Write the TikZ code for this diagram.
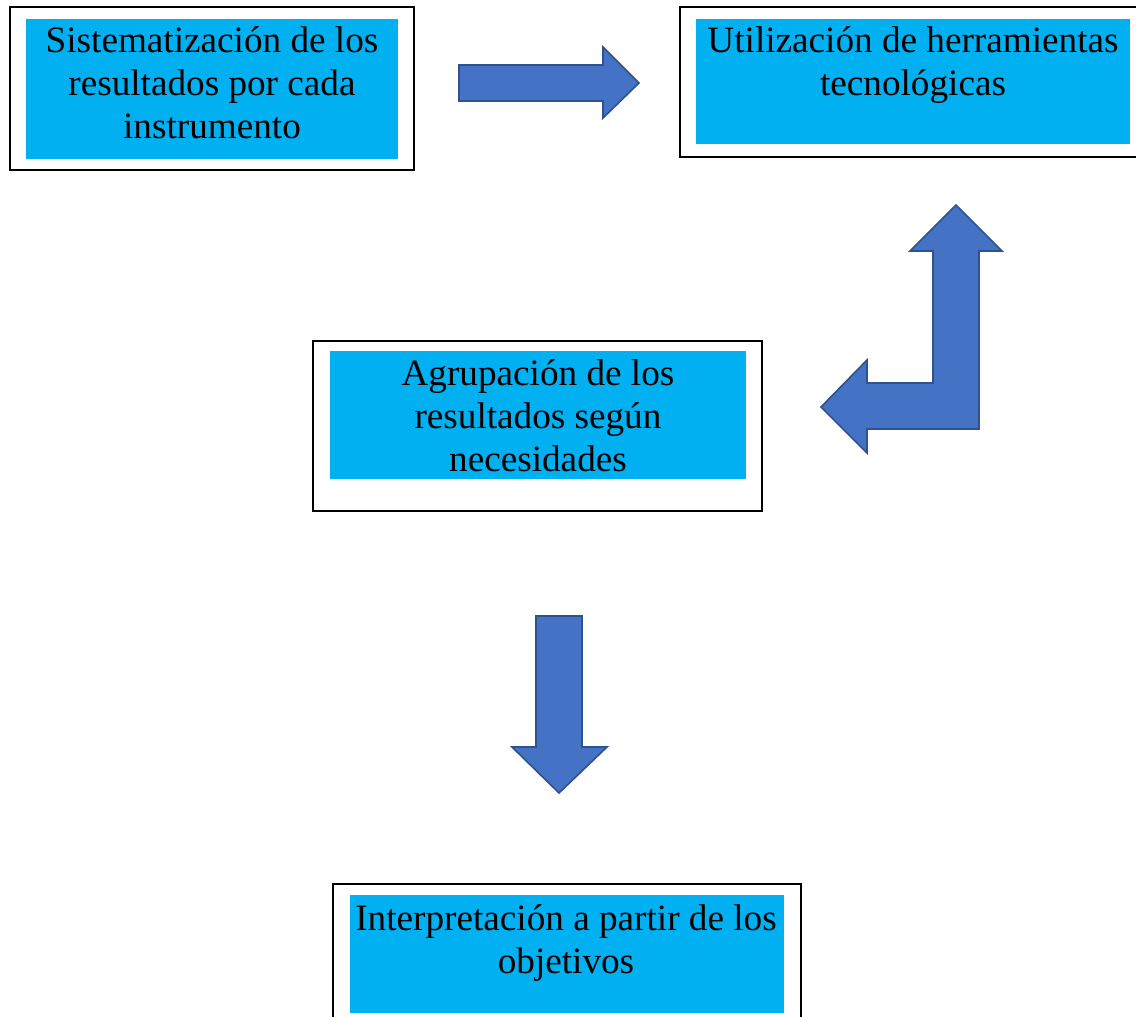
\documentclass[tikz,border=0pt]{standalone}
\usepackage{fontspec}
\setmainfont{Liberation Serif}
\usepackage{xcolor}
\usepackage{tikz}

\definecolor{cajacian}{HTML}{00B0F0}
\definecolor{flechaazul}{HTML}{4472C4}
\definecolor{flechaborde}{HTML}{2F528F}

\tikzset{
    outerbox/.style={draw=black, line width=1pt, fill=white, inner sep=0pt},
    cyanbox/.style={fill=cajacian, inner sep=0pt},
    boxtext/.style={align=center, inner sep=0pt, anchor=north, font=\fontsize{18.6}{21.5}\selectfont},
    blockarrow/.style={fill=flechaazul, draw=flechaborde, line width=0.8pt, line join=miter}
}

\begin{document}
\begin{tikzpicture}[x=0.5pt, y=-0.5pt]
        \useasboundingbox (0,0) rectangle (1136,1017);

        \node[outerbox, minimum width=202pt, minimum height=81.5pt] (sisout) at (212,88.5) {};
        \node[cyanbox, minimum width=186pt, minimum height=70pt] (sisin) at (212,89) {};
        \node[boxtext] (sis) at (212,26) {Sistematización de los\\resultados por cada\\instrumento};

        \node[outerbox, minimum width=230pt, minimum height=75pt] (utiout) at (910,82) {};
        \node[cyanbox, minimum width=217pt, minimum height=62.5pt] (utiin) at (913,81.5) {};
        \node[boxtext] (uti) at (913,26) {Utilización de herramientas\\tecnológicas};

        \node[outerbox, minimum width=224.5pt, minimum height=85pt] (agrout) at (537.5,426) {};
        \node[cyanbox, minimum width=208pt, minimum height=64pt] (agrin) at (538,415) {};
        \node[boxtext] (agr) at (538,359) {Agrupación de los\\resultados según\\necesidades};

        \node[outerbox, minimum width=234pt, minimum height=73pt] (intout) at (567,957) {};
        \node[cyanbox, minimum width=217pt, minimum height=59pt] (intin) at (567,954) {};
        \node[boxtext] (int) at (566,904) {Interpretación a partir de los\\objetivos};

        \draw[blockarrow] (459,65) -- (603,65) -- (603,47) -- (639,83) -- (603,118) -- (603,101) -- (459,101) -- cycle;
        \draw[blockarrow] (956,205) -- (1002,251) -- (979,251) -- (979,429) -- (867,429) -- (867,453) -- (821,407)
            -- (867,360) -- (867,383) -- (933,383) -- (933,251) -- (910,251) -- cycle; % bent
        \draw[blockarrow] (536,616) -- (582,616) -- (582,747) -- (607,747) -- (559,793) -- (512,747) -- (536,747) -- cycle;
    \end{tikzpicture}
\end{document}
